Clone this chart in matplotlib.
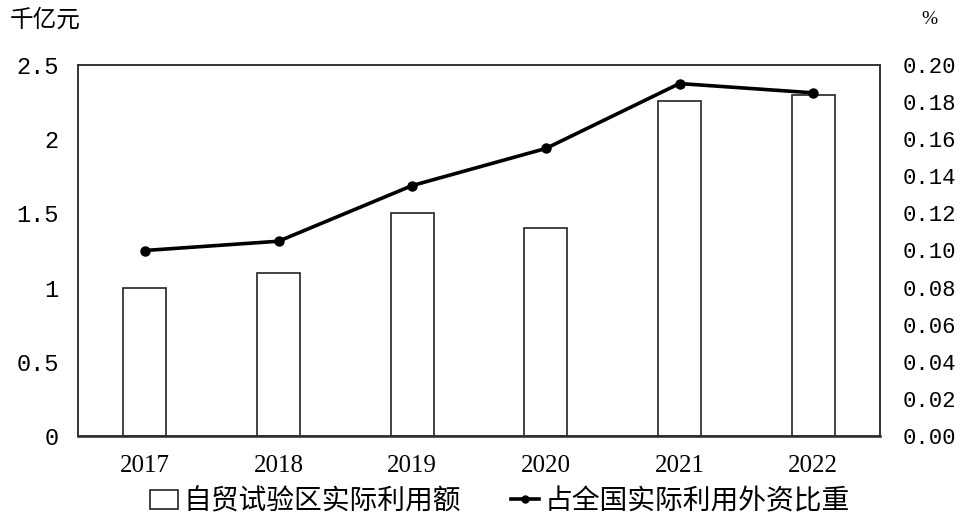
import matplotlib
matplotlib.use("Agg")
import matplotlib.pyplot as plt
from matplotlib.ticker import FixedLocator, FixedFormatter
from matplotlib.lines import Line2D
from matplotlib.patches import Patch
from matplotlib.font_manager import FontProperties

plt.rcParams['font.family'] = ['Noto Sans CJK SC', 'DejaVu Sans']

years = ['2017', '2018', '2019', '2020', '2021', '2022']
amount = [1.0, 1.1, 1.5, 1.4, 2.26, 2.3]          # 千亿元
share = [0.100, 0.105, 0.135, 0.155, 0.190, 0.185]  # %

left_ticks = [0, 0.5, 1, 1.5, 2, 2.5]
left_labels = ['0', '0.5', '1', '1.5', '2', '2.5']
right_ticks = [0.00, 0.02, 0.04, 0.06, 0.08, 0.10, 0.12, 0.14, 0.16, 0.18, 0.20]
right_labels = ['0.00', '0.02', '0.04', '0.06', '0.08', '0.10', '0.12', '0.14', '0.16', '0.18', '0.20']

fig = plt.figure(figsize=(9.6, 5.21), dpi=100)
ax = fig.add_axes([78/960, 1-436/521, (880-78)/960, (436-65)/521])
ax2 = ax.twinx()

x = list(range(len(years)))
ax.bar(x, amount, width=0.32, facecolor='white', edgecolor='#222222', linewidth=1.2, zorder=2)
ax.set_xlim(-0.5, len(years)-0.5)
ax.set_ylim(0, 2.5)
ax2.set_ylim(0, 0.2)
ax2.plot(x, share, color='black', linewidth=2.6, marker='o', markersize=6.5, zorder=3)

ax.yaxis.set_major_locator(FixedLocator(left_ticks))
ax.yaxis.set_major_formatter(FixedFormatter(left_labels))
ax2.yaxis.set_major_locator(FixedLocator(right_ticks))
ax2.yaxis.set_major_formatter(FixedFormatter(right_labels))
ax.set_xticks(x)
ax.set_xticklabels(years)
for lab in ax.get_yticklabels():
    lab.set_fontproperties(FontProperties(family='Liberation Mono', size=17))
for lab in ax2.get_yticklabels():
    lab.set_fontproperties(FontProperties(family='Liberation Mono', size=16))
for lab in ax.get_xticklabels():
    lab.set_fontproperties(FontProperties(family='Liberation Serif', size=18))

ax.tick_params(axis='y', length=0, pad=14)
ax2.tick_params(axis='y', length=0, pad=16)
ax.tick_params(axis='x', length=0, pad=14)

for a in (ax, ax2):
    for s in a.spines.values():
        s.set_color('#333333')
        s.set_linewidth(1.2)
ax.spines['bottom'].set_linewidth(1.8)
ax.spines['bottom'].set_color('#222222')

fig.text(10/960, 1-20/521, '千亿元', fontsize=17, va='center', ha='left')
fig.text(929/960, 1-20/521, '%', fontsize=14, va='center', ha='center', family='Liberation Serif')

handles = [Patch(facecolor='white', edgecolor='#222222', linewidth=1.2),
           Line2D([0], [0], color='black', linewidth=2.6, marker='o', markersize=5)]
fig.legend(handles, ['自贸试验区实际利用额', '占全国实际利用外资比重'],
           loc='center', bbox_to_anchor=(500/960, 1-501/521), ncol=2, frameon=False,
           fontsize=20, handlelength=1.0, handletextpad=0.2, columnspacing=1.8)

fig.savefig('out.png', dpi=100)
